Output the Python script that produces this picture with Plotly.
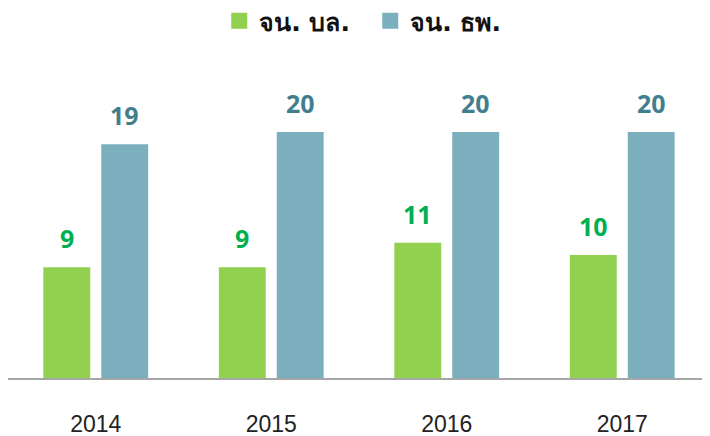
import plotly.graph_objects as go

years = ["2014", "2015", "2016", "2017"]
series_names = ["จน. บล.", "จน. ธพ."]
bl_values = [9, 9, 11, 10]
tp_values = [19, 20, 20, 20]

bar_colors = ["#92D050", "#7BAFBE"]
label_colors = ["#00B050", "#427E8D"]

fig = go.Figure()
for name, vals, col in zip(series_names, [bl_values, tp_values], bar_colors):
    fig.add_trace(go.Bar(x=years, y=vals, name=name, showlegend=False,
                         marker=dict(color=col, line=dict(width=0))))
# legend entries with larger square swatches
for name, col in zip(series_names, bar_colors):
    fig.add_trace(go.Scatter(x=[None], y=[None], mode="markers", name=f"<b>{name}</b>",
                             marker=dict(symbol="square", size=20, color=col)))

annotations = []
for vals, col, xs in zip([bl_values, tp_values], label_colors, [-29, 29]):
    for i, v in enumerate(vals):
        annotations.append(dict(x=i, y=v, text=f"<b>{v}</b>", showarrow=False,
                                xshift=xs, yshift=29, yanchor="middle",
                                font=dict(family="Open Sans", size=25, color=col)))

# page body adds an 8px offset, so the figure is 702x428
fig.update_layout(
    width=702, height=428,
    margin=dict(l=0, r=0, t=52, b=58, autoexpand=False),
    paper_bgcolor="white", plot_bgcolor="white",
    barmode="group", bargap=0.34, bargroupgap=0.19,
    showlegend=True,
    legend=dict(orientation="h", x=0.516, xanchor="center", yref="container",
                y=1 - 13 / 428, yanchor="middle", itemsizing="trace",
                entrywidth=106, entrywidthmode="pixels",
                font=dict(family="Tahoma, DejaVu Sans, Noto Sans", size=25, color="#111111"),
                traceorder="normal"),
    annotations=annotations,
    xaxis=dict(type="category", range=[-0.5, 3.5], automargin=False, showline=True,
               linecolor="#A6A6A6", linewidth=2, showgrid=False, ticks="",
               ticklabelstandoff=24,
               tickfont=dict(family="Liberation Sans, Arial", size=23, color="#222222")),
    yaxis=dict(range=[0, 318 / 12.3], visible=False, showgrid=False, automargin=False),
)
fig.write_html("out.html")
